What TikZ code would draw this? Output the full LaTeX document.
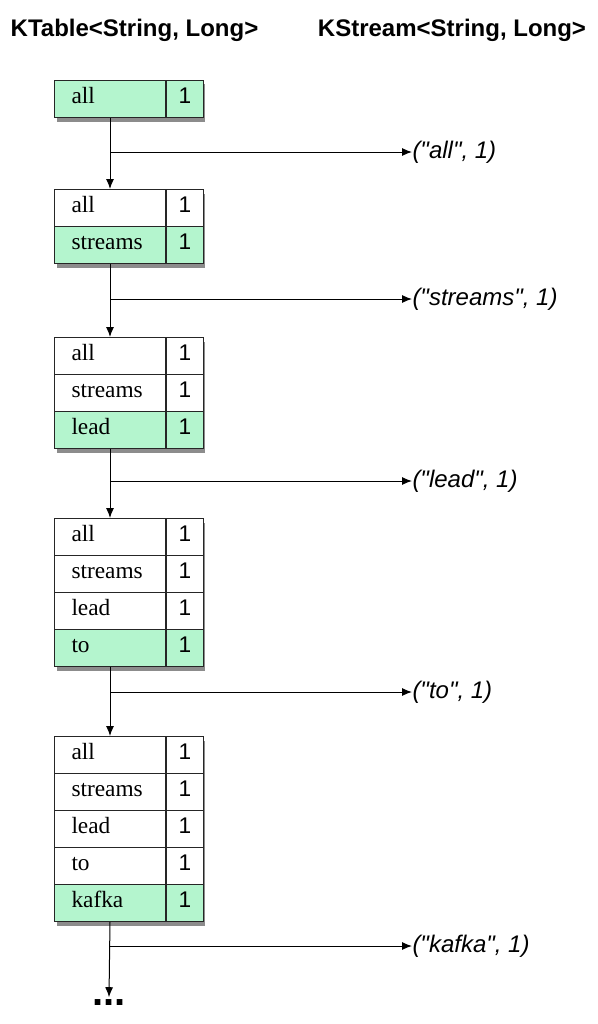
\documentclass[tikz,border=0pt]{standalone}
\usepackage{fontspec}
\setmainfont{Liberation Sans}
\newfontfamily\keyfont{Liberation Serif}
\usetikzlibrary{arrows.meta,positioning,shadows}
\definecolor{rowgreen}{RGB}{180,245,206}
\tikzset{
  header/.style={font=\bfseries\fontsize{18}{21}\selectfont, inner sep=0pt},
  tabframe/.style={draw=black!85, fill=white, minimum width=111pt, inner sep=0pt,
    drop shadow={shadow xshift=2pt, shadow yshift=-3pt, opacity=0.6, fill=black!75}},
  keycell/.style={draw=black!85, font=\keyfont\fontsize{17.5}{19}\selectfont,
    text width=57.75pt, inner xsep=12.75pt, inner ysep=0pt, minimum height=27.75pt,
    text height=1.6ex, text depth=.4ex, align=left},
  valcell/.style={draw=black!85, font=\fontsize{17}{19}\selectfont,
    minimum width=27.75pt, inner xsep=0pt, inner ysep=0pt, minimum height=27.75pt,
    text height=1.6ex, text depth=.4ex},
  outlbl/.style={font=\itshape\fontsize{18}{20}\selectfont, inner sep=0pt},
}
\begin{document}
\begin{tikzpicture}[x=0.75pt,y=-0.75pt,line width=0.75pt,>={Latex[length=7.5pt,width=6pt]}]
\useasboundingbox (0,0) rectangle (597,1024);
\node[header] (ktable) at (134.5,30) {KTable<String, Long>};
\node[header] (kstream) at (452,30) {KStream<String, Long>};
% tables, one more row each time
\foreach \t/\top/\by/\word in {1/80/152/all,2/189/299/streams,3/337/481/lead,4/518/692/to,5/736/946/kafka} {
  \node[tabframe, minimum height=\t*27.75pt, anchor=north west] (tab\t) at (54,\top) {};
  \foreach \w [count=\i] in {all,streams,lead,to,kafka} {
    \ifnum\i>\t\relax\else
      \ifnum\i=\t\def\cellfill{rowgreen}\else\def\cellfill{white}\fi
      \node[keycell, fill=\cellfill, anchor=north west] (k\t-\i) at (54,{\top+(\i-1)*37}) {\w};
      \node[valcell, fill=\cellfill, anchor=north west] (v\t-\i) at (k\t-\i.north east) {1};
    \fi
  }
  \coordinate (br\t) at (k\t-\t.south |- 0,\by);
  \node[outlbl, anchor=west] (out\t) at (412,\by) {(\textquotedbl\word\textquotedbl, 1)};
  \draw[->] (br\t) -- (out\t.west);
}
\foreach \t in {1,...,4} {
  \pgfmathtruncatemacro\nxt{\t+1}
  \draw[->] (k\t-\t.south) -- (k\nxt-1.north);
}
\node[font=\bfseries\fontsize{30}{32}\selectfont, inner sep=1pt, anchor=base] (dots) at (109,1005) {...};
\draw[->] (k5-5.south) -- (dots.north);
\end{tikzpicture}
\end{document}
